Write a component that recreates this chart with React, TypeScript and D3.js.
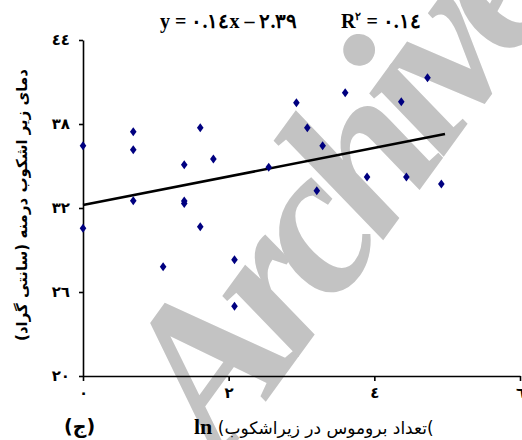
import { useEffect, useRef } from 'react';
import * as d3 from 'd3';

// ln(bromus count under canopy) vs. under-canopy temperature of Artemisia
const LN_BROMUS = [0, 0.69, 0.69, 1.39, 1.61, 1.79, 0.69, 1.39, 1.39, 0, 1.61, 1.1, 2.08, 2.08, 2.93, 3.6, 3.08, 3.29, 2.55, 3.21, 3.9, 4.73, 4.37, 4.44, 4.92];
const TEMPERATURE = [36.45, 37.45, 36.16, 35.09, 37.74, 35.5, 32.52, 32.5, 32.32, 30.55, 30.66, 27.81, 28.31, 24.98, 39.52, 40.24, 37.74, 36.45, 34.91, 33.24, 34.21, 41.31, 39.59, 34.21, 33.71];

const X_TICKS = [0, 2, 4, 6];
const Y_TICKS = [20, 26, 32, 38, 44];

// fitted line as drawn in the figure
const TREND_INTERCEPT = 32.21;
const TREND_SLOPE = 1.02;
const TREND_X_RANGE = [0, 4.97];

const toArabicDigits = (v: number | string) =>
  String(v).replace(/[0-9]/g, (d) => '٠١٢٣٤٥٦٧٨٩'[+d]);

const W = 522;
const H = 440;

export default function App() {
  const ref = useRef<SVGSVGElement>(null);

  useEffect(() => {
    const svg = d3.select(ref.current);
    svg.selectAll('*').remove();

    const x = d3.scaleLinear().domain([0, 6]).range([83, 520]);
    const y = d3.scaleLinear().domain([20, 44]).range([376, 40]);

    // watermark
    svg
      .append('text')
      .attr('transform', 'translate(222,462) rotate(-54)')
      .attr('font-family', 'Liberation Serif')
      .attr('font-weight', 'bold')
      .attr('font-style', 'italic')
      .attr('font-size', 212)
      .attr('letter-spacing', -16)
      .attr('fill', '#c3c3c3')
      .text('Archive');

    // y axis
    const yAxis = svg
      .append('g')
      .attr('transform', `translate(${x(0)},0)`)
      .call(
        d3
          .axisLeft(y)
          .tickValues(Y_TICKS)
          .tickSize(4)
          .tickSizeOuter(0)
          .tickPadding(9)
          .tickFormat((d) => toArabicDigits(d as number))
      );

    // x axis
    const xAxis = svg
      .append('g')
      .attr('transform', `translate(0,${y(20)})`)
      .call(
        d3
          .axisBottom(x)
          .tickValues(X_TICKS)
          .tickSize(5)
          .tickSizeOuter(0)
          .tickPadding(6)
          .tickFormat((d) => toArabicDigits(d as number))
      );

    [yAxis, xAxis].forEach((g) => {
      g.selectAll('path, line').attr('stroke', '#000').attr('stroke-width', 1.6);
      g.selectAll('text')
        .attr('font-family', 'DejaVu Sans')
        .attr('font-weight', 'bold')
        .attr('font-size', 15)
        .attr('fill', '#000');
    });

    // trend line
    const line = d3
      .line<number>()
      .x((d) => x(d))
      .y((d) => y(TREND_INTERCEPT + TREND_SLOPE * d));
    svg
      .append('path')
      .attr('d', line(TREND_X_RANGE))
      .attr('fill', 'none')
      .attr('stroke', '#000')
      .attr('stroke-width', 2.6);

    // points
    const pts = LN_BROMUS.map((v, i) => ({ x: v, y: TEMPERATURE[i] }));
    svg
      .append('g')
      .selectAll('path')
      .data(pts)
      .enter()
      .append('path')
      .attr('transform', (d) => `translate(${x(d.x)},${y(d.y)})`)
      .attr('d', 'M0,-4.5L3.3,0L0,4.5L-3.3,0Z')
      .attr('fill', '#000080');

    // equation
    const eq = svg
      .append('text')
      .attr('y', 28)
      .attr('font-family', 'Liberation Serif')
      .attr('font-weight', 'bold')
      .attr('font-size', 20)
      .attr('direction', 'ltr')
      .attr('unicode-bidi', 'bidi-override');
    eq.append('tspan').attr('x', 160).text(`y = ${toArabicDigits('0.14')}x – ${toArabicDigits('2.39')}`);
    eq.append('tspan').attr('x', 341).text('R');
    eq.append('tspan').attr('font-size', 11).attr('dy', -8).text(toArabicDigits(2));
    eq.append('tspan').attr('dy', 8).text(` = ${toArabicDigits('0.14')}`);

    // y axis title
    svg
      .append('text')
      .attr('transform', 'translate(27,205) rotate(-90)')
      .attr('text-anchor', 'middle')
      .attr('font-family', 'DejaVu Sans')
      .attr('font-weight', 'bold')
      .attr('font-size', 15)
      .attr('direction', 'rtl')
      .text('دمای زیر اشکوب درمنه (سانتی گراد)');

    // x axis title
    const xt = svg.append('text').attr('x', 194).attr('y', 434);
    xt.append('tspan')
      .attr('font-family', 'Liberation Serif')
      .attr('font-weight', 'bold')
      .attr('font-size', 22)
      .text('ln');
    xt.append('tspan')
      .attr('font-family', 'DejaVu Sans')
      .attr('font-size', 17)
      .text(' (تعداد بروموس در زیراشکوب\u200E(');

    svg
      .append('text')
      .attr('x', 64)
      .attr('y', 433)
      .attr('font-family', 'DejaVu Sans')
      .attr('font-weight', 'bold')
      .attr('font-size', 19)
      .text('(ج)');
  }, []);

  return (
    <svg
      ref={ref}
      width={W}
      height={H}
      style={{ position: 'absolute', left: 0, top: 0, background: '#fff' }}
    />
  );
}
